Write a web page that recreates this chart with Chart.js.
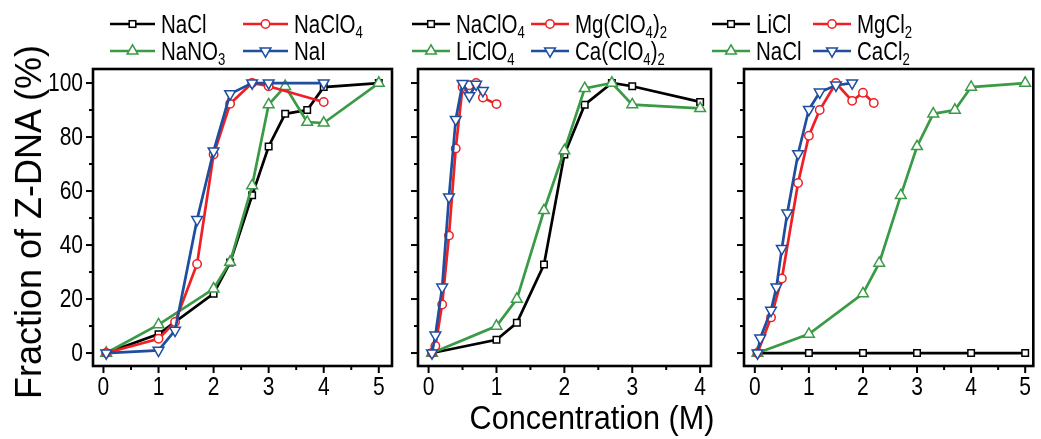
<!DOCTYPE html>
<html>
<head>
<meta charset="utf-8">
<script src="https://cdn.jsdelivr.net/npm/chart.js@4.4.1/dist/chart.umd.min.js"></script>
<style>
  body { margin: 0; background: #fff; }
  #fig { position: relative; width: 1041px; height: 439px; overflow: hidden;
         font-family: "Liberation Sans", Arial, sans-serif; color: #000; }
  #fig canvas { position: absolute; top: 0; }
  .lg { position: absolute; height: 30px; display: flex; align-items: center;
        font-size: 25px; line-height: 1; white-space: nowrap; }
  .lg svg { margin-right: 6px; flex: none; }
  .lg span { display: inline-block; transform: scaleX(0.82); transform-origin: left center; }
  .lg sub { font-size: 16px; vertical-align: -5px; line-height: 0; }
  .ytitle { position: absolute; left: 29px; top: 222px; transform: translate(-50%, -50%) rotate(-90deg);
            font-size: 36px; white-space: nowrap; }
  .xtitle { position: absolute; left: 592px; top: 417px; transform: translate(-50%, -50%) scaleX(0.9);
            font-size: 34px; white-space: nowrap; }
</style>
</head>
<body>
<div id="fig">
  <canvas id="cA" width="400" height="439" style="left:0px"></canvas>
  <canvas id="cB" width="320" height="439" style="left:400px"></canvas>
  <canvas id="cC" width="321" height="439" style="left:720px"></canvas>
  <div class="ytitle">Fraction of Z-DNA (%)</div>
  <div class="xtitle">Concentration (M)</div>
</div>
<script>
// ---- Panel A: sodium salts ----
const naclX_A   = [0.05, 1, 2, 2.3, 2.7, 3, 3.3, 3.7, 4, 5];
const naclY_A   = [0, 7, 22, 33.5, 58.4, 76.5, 88.6, 90, 98.5, 100];
const naclo4X_A = [0.05, 1, 1.3, 1.7, 2, 2.3, 2.7, 3, 4];
const naclo4Y_A = [0, 5.3, 11.5, 33, 73.5, 92.3, 100, 98.8, 93];
const nano3X_A  = [0.05, 1, 2, 2.3, 2.7, 3, 3.3, 3.7, 4, 5];
const nano3Y_A  = [0, 10.5, 23.8, 33.7, 62, 92, 98.8, 85.5, 85.2, 100];
const naiX_A    = [0.05, 1, 1.3, 1.7, 2, 2.3, 2.7, 3, 4];
const naiY_A    = [0, 1, 8.4, 49.4, 74.8, 96, 100, 100, 100];

// ---- Panel B: perchlorates ----
const naclo4X_B = [0.05, 1, 1.3, 1.7, 2, 2.3, 2.7, 3, 4];
const naclo4Y_B = [0, 4.9, 11.2, 32.8, 73.5, 92, 100, 98.8, 93];
const mgclo4X_B = [0.05, 0.1, 0.2, 0.3, 0.4, 0.5, 0.6, 0.7, 0.8, 1.0];
const mgclo4Y_B = [0, 2.6, 18, 43.5, 75.8, 98.5, 99.2, 100, 94.6, 92.2];
const liclo4X_B = [0.05, 1, 1.3, 1.7, 2, 2.3, 2.7, 3, 4];
const liclo4Y_B = [0, 10, 20, 52.8, 75, 98, 100, 92, 90.6];
const caclo4X_B = [0.05, 0.1, 0.2, 0.3, 0.4, 0.5, 0.6, 0.7, 0.8];
const caclo4Y_B = [0, 6.6, 24.4, 57.8, 86.5, 99.8, 95.3, 99.5, 97.2];

// ---- Panel C: chlorides ----
const liclX_C  = [0.05, 1, 2, 3, 4, 5];
const liclY_C  = [0, 0, 0, 0, 0, 0];
const mgcl2X_C = [0.05, 0.3, 0.5, 0.8, 1, 1.2, 1.5, 1.8, 2, 2.2];
const mgcl2Y_C = [0, 13.2, 27.6, 63, 80.5, 90, 100, 93.4, 96.4, 92.6];
const naclX_C  = [0.05, 1, 2, 2.3, 2.7, 3, 3.3, 3.7, 4, 5];
const naclY_C  = [0, 7, 22, 33.3, 58.4, 76.5, 88.6, 90, 98.5, 100];
const cacl2X_C = [0.05, 0.1, 0.3, 0.4, 0.5, 0.6, 0.8, 1, 1.2, 1.5, 1.8];
const cacl2Y_C = [0, 5.5, 15.8, 24.4, 38.7, 51.8, 73.8, 90.2, 96.6, 99.2, 100];

// ---- tick labels ----
const yTicks      = [0, 20, 40, 60, 80, 100];
const yMinorTicks = [10, 30, 50, 70, 90];
const xTicksA = [0, 1, 2, 3, 4, 5];
const xMinorA = [0.5, 1.5, 2.5, 3.5, 4.5];
const xTicksB = [0, 1, 2, 3, 4];
const xMinorB = [0.5, 1.5, 2.5, 3.5];
const xTicksC = [0, 1, 2, 3, 4, 5];
const xMinorC = [0.5, 1.5, 2.5, 3.5, 4.5];

// ---- series styles ----
const STY = {
  black: { color: '#000000', point: 'rect',     r: 4.6, rot: 0 },
  red:   { color: '#ee2024', point: 'circle',   r: 4.2, rot: 0 },
  green: { color: '#3a9a46', point: 'triangle', r: 6.2, rot: 0 },
  blue:  { color: '#1f4e9e', point: 'triangle', r: 6.2, rot: 180 }
};

const FONT = '25px "Liberation Sans", Arial, sans-serif';
const SQUEEZE = 0.84;   // condensed look for the tick numbers

function series(label, xs, ys, s, order) {
  const st = STY[s];
  return {
    label,
    data: xs.map((x, i) => ({ x, y: ys[i] })),
    borderColor: st.color,
    borderWidth: 2.7,
    pointStyle: st.point,
    pointRadius: st.r,
    pointRotation: st.rot,
    pointBorderWidth: 1.5,
    pointBorderColor: st.color,
    pointBackgroundColor: '#ffffff',
    tension: 0,
    order
  };
}

// Box round the plot area, outward major / minor tick marks and condensed tick numbers
const frame = {
  id: 'frame',
  afterDraw(chart, args, o) {
    const { ctx, chartArea: a, scales: { x, y } } = chart;
    ctx.save();
    ctx.strokeStyle = '#000';
    ctx.lineWidth = 2;
    const seg = (x1, y1, x2, y2) => { ctx.beginPath(); ctx.moveTo(x1, y1); ctx.lineTo(x2, y2); ctx.stroke(); };
    o.xMajor.forEach(v => { const p = x.getPixelForValue(v); seg(p, a.bottom, p, a.bottom + 7); });
    o.xMinor.forEach(v => { const p = x.getPixelForValue(v); seg(p, a.bottom, p, a.bottom + 4); });
    o.yMajor.forEach(v => { const p = y.getPixelForValue(v); seg(a.left - 7, p, a.left, p); });
    o.yMinor.forEach(v => { const p = y.getPixelForValue(v); seg(a.left - 4, p, a.left, p); });
    ctx.lineWidth = 2.6;
    ctx.strokeRect(a.left, a.top, a.right - a.left, a.bottom - a.top);

    ctx.fillStyle = '#000';
    ctx.font = FONT;
    const label = (txt, px, py, align, base) => {
      ctx.save();
      ctx.translate(px, py);
      ctx.scale(SQUEEZE, 1);
      ctx.textAlign = align;
      ctx.textBaseline = base;
      ctx.fillText(txt, 0, 0);
      ctx.restore();
    };
    x.ticks.forEach(t => label(String(t.value), x.getPixelForValue(t.value), a.bottom + 10, 'center', 'top'));
    if (o.yLabels) {
      y.ticks.forEach(t => label(String(t.value), a.left - 10, y.getPixelForValue(t.value) + 1, 'right', 'middle'));
    }
    ctx.restore();
  }
};

function makeChart(id, datasets, cfg) {
  const canvas = document.getElementById(id);
  const W = canvas.width, H = canvas.height;
  return new Chart(canvas, {
    type: 'line',
    data: { datasets },
    plugins: [frame],
    options: {
      responsive: false,
      animation: false,
      devicePixelRatio: 1,
      layout: { padding: { left: 0, top: cfg.top, right: W - cfg.right, bottom: 0 } },
      plugins: {
        legend: { display: false },
        tooltip: { enabled: false },
        frame: { xMajor: cfg.xTicks, xMinor: cfg.xMinor, yMajor: yTicks, yMinor: yMinorTicks, yLabels: cfg.yLabels }
      },
      scales: {
        x: {
          type: 'linear', min: cfg.xmin, max: cfg.xmax,
          grid: { display: false, drawTicks: false },
          border: { display: false },
          afterBuildTicks: s => { s.ticks = cfg.xTicks.map(v => ({ value: v })); },
          afterFit: s => { s.height = H - cfg.bottom; },
          ticks: { display: false }
        },
        y: {
          type: 'linear', min: -4.8, max: 105.2,
          grid: { display: false, drawTicks: false },
          border: { display: false },
          afterBuildTicks: s => { s.ticks = yTicks.map(v => ({ value: v })); },
          afterFit: s => { s.width = cfg.left; },
          ticks: { display: false }
        }
      }
    }
  });
}

makeChart('cA', [
  series('NaCl',   naclX_A,   naclY_A,   'black', 4),
  series('NaClO4', naclo4X_A, naclo4Y_A, 'red',   2),
  series('NaNO3',  nano3X_A,  nano3Y_A,  'green', 3),
  series('NaI',    naiX_A,    naiY_A,    'blue',  1)
], { left: 93, right: 392, top: 69, bottom: 366, xmin: -0.19, xmax: 5.24, xTicks: xTicksA, xMinor: xMinorA, yLabels: true });

makeChart('cB', [
  series('NaClO4',    naclo4X_B, naclo4Y_B, 'black', 4),
  series('Mg(ClO4)2', mgclo4X_B, mgclo4Y_B, 'red',   2),
  series('LiClO4',    liclo4X_B, liclo4Y_B, 'green', 3),
  series('Ca(ClO4)2', caclo4X_B, caclo4Y_B, 'blue',  1)
], { left: 18, right: 311, top: 69, bottom: 366, xmin: -0.156, xmax: 4.16, xTicks: xTicksB, xMinor: xMinorB, yLabels: false });

makeChart('cC', [
  series('LiCl',  liclX_C,  liclY_C,  'black', 4),
  series('MgCl2', mgcl2X_C, mgcl2Y_C, 'red',   2),
  series('NaCl',  naclX_C,  naclY_C,  'green', 3),
  series('CaCl2', cacl2X_C, cacl2Y_C, 'blue',  1)
], { left: 24, right: 318, top: 69, bottom: 366, xmin: -0.2, xmax: 5.15, xTicks: xTicksC, xMinor: xMinorC, yLabels: false });

// ---- legends (line sample with marker, then the salt name) ----
function markerSVG(s, len) {
  const st = STY[s], c = st.color, cx = len / 2, cy = 10;
  let m;
  if (st.point === 'rect') {
    m = `<rect x="${cx - 3.3}" y="${cy - 3.3}" width="6.6" height="6.6" fill="#fff" stroke="${c}" stroke-width="1.5"/>`;
  } else if (st.point === 'circle') {
    m = `<circle cx="${cx}" cy="${cy}" r="4.2" fill="#fff" stroke="${c}" stroke-width="1.5"/>`;
  } else {
    const r = 6.2, h = r * 0.866, d = st.rot ? -1 : 1;
    m = `<polygon points="${cx},${cy - d * r} ${cx - h},${cy + d * r / 2} ${cx + h},${cy + d * r / 2}" fill="#fff" stroke="${c}" stroke-width="1.5"/>`;
  }
  return `<svg width="${len}" height="20"><line x1="0" y1="${cy}" x2="${len}" y2="${cy}" stroke="${c}" stroke-width="2.7"/>${m}</svg>`;
}

const legendItems = [
  // [left, centre y, line length, style, html name]
  [110, 24, 45, 'black', 'NaCl'],
  [243, 24, 45, 'red',   'NaClO<sub>4</sub>'],
  [110, 51, 45, 'green', 'NaNO<sub>3</sub>'],
  [243, 51, 45, 'blue',  'NaI'],
  [412, 24, 38, 'black', 'NaClO<sub>4</sub>'],
  [531, 24, 38, 'red',   'Mg(ClO<sub>4</sub>)<sub>2</sub>'],
  [412, 51, 38, 'green', 'LiClO<sub>4</sub>'],
  [531, 51, 38, 'blue',  'Ca(ClO<sub>4</sub>)<sub>2</sub>'],
  [712, 24, 38, 'black', 'LiCl'],
  [813, 24, 38, 'red',   'MgCl<sub>2</sub>'],
  [712, 51, 38, 'green', 'NaCl'],
  [813, 51, 38, 'blue',  'CaCl<sub>2</sub>']
];
const fig = document.getElementById('fig');
legendItems.forEach(([x, yc, len, s, name]) => {
  const d = document.createElement('div');
  d.className = 'lg';
  d.style.left = x + 'px';
  d.style.top = (yc - 15) + 'px';
  d.innerHTML = markerSVG(s, len) + '<span>' + name + '</span>';
  fig.appendChild(d);
});
</script>
</body>
</html>
